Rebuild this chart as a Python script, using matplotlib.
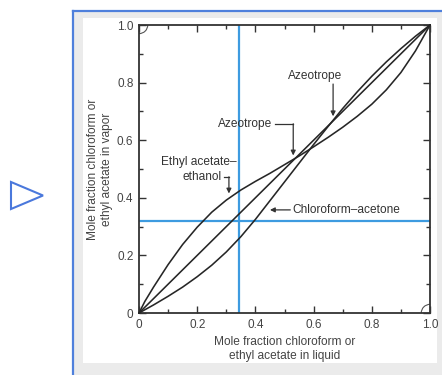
import matplotlib
matplotlib.use("Agg")
import matplotlib.pyplot as plt
from matplotlib.patches import Rectangle, Polygon, Arc
from matplotlib.ticker import MultipleLocator, FixedLocator

plt.rcParams['font.family'] = ['Liberation Sans', 'DejaVu Sans']

# ---- data ----
ea_x = [0.0, 0.02, 0.05, 0.1, 0.15, 0.2, 0.25, 0.3, 0.35, 0.4, 0.45, 0.5, 0.55, 0.6, 0.65, 0.7, 0.75, 0.8, 0.85, 0.9, 0.95, 1.0]
ea_y = [0.0, 0.04, 0.09, 0.168, 0.238, 0.298, 0.350, 0.392, 0.427, 0.457, 0.485, 0.515, 0.545, 0.577, 0.61, 0.645, 0.683, 0.725, 0.775, 0.835, 0.91, 1.0]

ca_x = [0.0, 0.05, 0.1, 0.15, 0.2, 0.25, 0.3, 0.35, 0.4, 0.45, 0.5, 0.55, 0.6, 0.65, 0.7, 0.75, 0.8, 0.85, 0.9, 0.95, 1.0]
ca_y = [0.0, 0.028, 0.058, 0.09, 0.126, 0.166, 0.212, 0.265, 0.325, 0.39, 0.455, 0.52, 0.585, 0.648, 0.71, 0.768, 0.822, 0.872, 0.918, 0.961, 1.0]

diag_x = [0.0, 1.0]
diag_y = [0.0, 1.0]

vline_x = 0.343
hline_y = 0.32

tick_vals = [0, 0.2, 0.4, 0.6, 0.8, 1.0]
tick_labels = ['0', '0.2', '0.4', '0.6', '0.8', '1.0']

W, H = 442, 375
fig = plt.figure(figsize=(W / 100, H / 100), dpi=100)
fig.patch.set_facecolor('white')

# page decorations (panel, border, play icon)
fig.patches.append(Rectangle((72 / W, 0), 1 - 72 / W, 1 - 10 / H, transform=fig.transFigure,
                             facecolor='#ebebeb', edgecolor='none', zorder=0))
fig.lines.append(plt.Line2D([72.5 / W, 72.5 / W], [0, 1 - 10.5 / H], transform=fig.transFigure,
                            color='#4f80dc', lw=1.6, zorder=1))
fig.lines.append(plt.Line2D([72.5 / W, 1], [1 - 10.5 / H, 1 - 10.5 / H], transform=fig.transFigure,
                            color='#4f80dc', lw=1.6, zorder=1))
fig.patches.append(Rectangle((83 / W, 1 - 363 / H), (437 - 83) / W, (363 - 18) / H, transform=fig.transFigure,
                             facecolor='white', edgecolor='none', zorder=1))
fig.patches.append(Polygon([(11 / W, 1 - 182 / H), (11 / W, 1 - 209 / H), (43 / W, 1 - 195.5 / H)],
                           closed=True, transform=fig.transFigure, facecolor='none',
                           edgecolor='#4a78dc', lw=1.5, zorder=2))

ax = fig.add_axes([139 / W, 1 - 313 / H, (430 - 139) / W, (313 - 25) / H])
ax.set_facecolor('white')
ax.set_zorder(3)
ax.set_xlim(0, 1)
ax.set_ylim(0, 1)

lc = '#262626'
for xs, ys in ((diag_x, diag_y), (ea_x, ea_y), (ca_x, ca_y)):
    ax.plot(xs, ys, color=lc, lw=1.15, clip_on=False, zorder=3,
            solid_joinstyle='round', solid_capstyle='round')

blue = '#3d9be0'
ax.axvline(vline_x, color=blue, lw=1.6, zorder=2)
ax.axhline(hline_y, color=blue, lw=1.6, zorder=2)

for s in ax.spines.values():
    s.set_color('#333333')
    s.set_linewidth(1.3)

ax.xaxis.set_major_locator(FixedLocator(tick_vals))
ax.yaxis.set_major_locator(FixedLocator(tick_vals))
ax.set_xticklabels(tick_labels)
ax.set_yticklabels(tick_labels)
ax.xaxis.set_minor_locator(MultipleLocator(0.1))
ax.yaxis.set_minor_locator(MultipleLocator(0.1))
ax.tick_params(which='both', direction='in', top=True, right=True, color='#333333', width=1.0)
ax.tick_params(which='major', length=5, labelsize=8.5, labelcolor='#444444', pad=4)
ax.tick_params(which='minor', length=3)

ax.set_xlabel('Mole fraction chloroform or\nethyl acetate in liquid', fontsize=8.6, color='#444444',
              labelpad=4, linespacing=1.2)
ax.set_ylabel('Mole fraction chloroform or\nethyl acetate in vapor', fontsize=8.6, color='#444444',
              labelpad=3, linespacing=1.2)

tc = '#333333'
fs = 8.6
ap = dict(arrowstyle='-|>', color=tc, lw=0.9, mutation_scale=7, shrinkA=0, shrinkB=0)
# Azeotrope (chloroform-acetone)
ax.text(0.605, 0.823, 'Azeotrope', fontsize=fs, color=tc, ha='center', va='center', zorder=4)
ax.annotate('', xy=(0.667, 0.683), xytext=(0.667, 0.795), arrowprops=ap)
# Azeotrope (ethyl acetate-ethanol)
ax.text(0.457, 0.656, 'Azeotrope', fontsize=fs, color=tc, ha='right', va='center', zorder=4)
ax.plot([0.467, 0.53], [0.656, 0.656], color=tc, lw=0.9)
ax.annotate('', xy=(0.53, 0.547), xytext=(0.53, 0.657), arrowprops=ap)
# Ethyl acetate-ethanol label
ax.text(0.337, 0.524, 'Ethyl acetate–', fontsize=fs, color=tc, ha='right', va='center', zorder=4)
ax.text(0.285, 0.472, 'ethanol', fontsize=fs, color=tc, ha='right', va='center', zorder=4)
ax.plot([0.292, 0.309], [0.472, 0.472], color=tc, lw=0.9)
ax.annotate('', xy=(0.309, 0.415), xytext=(0.309, 0.473), arrowprops=ap)
# Chloroform-acetone label
ax.annotate('', xy=(0.45, 0.358), xytext=(0.52, 0.358), arrowprops=ap)
ax.text(0.528, 0.356, 'Chloroform–acetone', fontsize=fs, color=tc, ha='left', va='center', zorder=4)

# small corner arcs
ax.add_patch(Arc((0.0, 1.0), 0.06, 0.06, theta1=270, theta2=360, color='#555555', lw=0.8))
ax.add_patch(Arc((1.0, 0.0), 0.06, 0.06, theta1=90, theta2=180, color='#555555', lw=0.8))

fig.savefig('out.png', dpi=100)
